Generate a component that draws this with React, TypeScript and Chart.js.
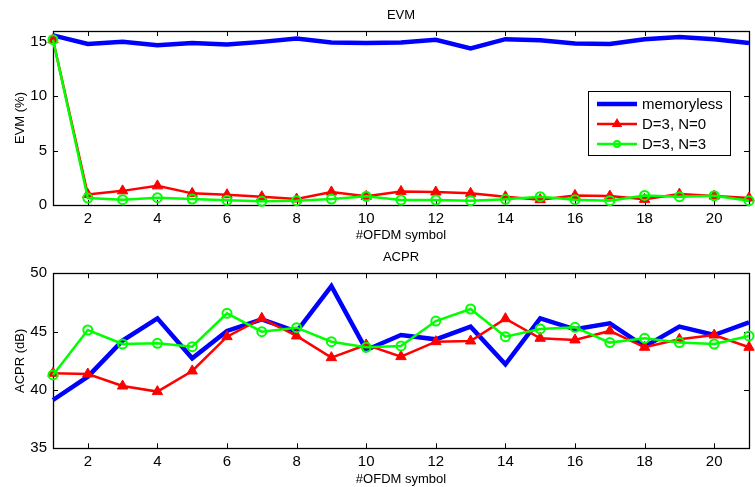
import React, { useEffect, useRef } from 'react';
import { Chart, registerables } from 'chart.js';
Chart.register(...registerables);

const symbols = [1, 2, 3, 4, 5, 6, 7, 8, 9, 10, 11, 12, 13, 14, 15, 16, 17, 18, 19, 20, 21];
const xTicks = [2, 4, 6, 8, 10, 12, 14, 16, 18, 20];
const evmTicks = [0, 5, 10, 15];
const acprTicks = [35, 40, 45, 50];
const seriesLabels = ['memoryless', 'D=3, N=0', 'D=3, N=3'];

const evmMemoryless = [15.6, 14.8, 15.0, 14.7, 14.9, 14.75, 15.0, 15.3, 14.95, 14.9, 14.95, 15.2, 14.4, 15.25, 15.15, 14.85, 14.8, 15.25, 15.45, 15.25, 14.9];
const evmD3N0 = [15.2, 0.97, 1.3, 1.76, 1.07, 0.94, 0.76, 0.55, 1.2, 0.8, 1.25, 1.19, 1.07, 0.76, 0.49, 0.88, 0.82, 0.52, 1.0, 0.82, 0.64];
const evmD3N3 = [15.2, 0.64, 0.49, 0.67, 0.55, 0.43, 0.34, 0.4, 0.55, 0.8, 0.46, 0.46, 0.4, 0.52, 0.76, 0.49, 0.4, 0.88, 0.76, 0.85, 0.4];

const acprMemoryless = [39.14, 41.14, 44.23, 46.14, 42.71, 45.06, 46.06, 45.0, 48.9, 43.43, 44.71, 44.34, 45.43, 42.2, 46.14, 45.2, 45.71, 43.71, 45.43, 44.71, 45.8];
const acprD3N0 = [41.43, 41.37, 40.34, 39.86, 41.63, 44.57, 46.14, 44.63, 42.77, 43.86, 42.86, 44.14, 44.2, 46.11, 44.43, 44.29, 45.06, 43.66, 44.34, 44.71, 43.66];
const acprD3N3 = [41.29, 45.14, 43.94, 44.0, 43.71, 46.57, 45.0, 45.34, 44.14, 43.66, 43.77, 45.91, 46.94, 44.57, 45.23, 45.37, 44.06, 44.43, 44.06, 43.94, 44.63];

const FONT = "'Liberation Sans', Arial, Helvetica, sans-serif";
const BLUE = '#0000ff';
const RED = '#ff0000';
const GREEN = '#00ff00';

function makeDatasets(a: number[], b: number[], c: number[]) {
  const pts = (arr: number[]) => symbols.map((x, i) => ({ x, y: arr[i] }));
  return [
    {
      label: seriesLabels[0], data: pts(a), borderColor: BLUE, borderWidth: 4.5,
      pointRadius: 0, tension: 0, order: 3, clip: false as any,
    },
    {
      label: seriesLabels[1], data: pts(b), borderColor: RED, borderWidth: 2.5,
      pointStyle: 'triangle', pointRadius: 6, pointBackgroundColor: RED, pointBorderColor: RED,
      pointBorderWidth: 1, tension: 0, order: 2, clip: false as any,
    },
    {
      label: seriesLabels[2], data: pts(c), borderColor: GREEN, borderWidth: 2.5,
      pointStyle: 'circle', pointRadius: 4.5, pointBackgroundColor: 'rgba(0,0,0,0)', pointBorderColor: GREEN,
      pointBorderWidth: 2, tension: 0, order: 1, clip: false as any,
    },
  ];
}

const framePlugin = {
  id: 'frameTicks',
  beforeDatasetsDraw(chart: any) {
    const { ctx, chartArea: a, scales } = chart;
    ctx.save();
    ctx.strokeStyle = '#000';
    ctx.lineWidth = 1;
    ctx.beginPath();
    const tl = 5;
    for (const t of scales.x.ticks) {
      const px = Math.round(scales.x.getPixelForValue(t.value)) + 0.5;
      ctx.moveTo(px, a.top); ctx.lineTo(px, a.top + tl);
      ctx.moveTo(px, a.bottom); ctx.lineTo(px, a.bottom - tl);
    }
    for (const t of scales.y.ticks) {
      const py = Math.round(scales.y.getPixelForValue(t.value)) + 0.5;
      ctx.moveTo(a.left, py); ctx.lineTo(a.left + tl, py);
      ctx.moveTo(a.right, py); ctx.lineTo(a.right - tl, py);
    }
    ctx.stroke();
    ctx.lineWidth = 1.3;
    ctx.strokeRect(Math.round(a.left) + 0.5, Math.round(a.top) + 0.5, a.right - a.left, a.bottom - a.top);
    ctx.restore();
  },
};

const legendPlugin = {
  id: 'matlabLegend',
  afterDatasetsDraw(chart: any) {
    const { ctx, chartArea: a } = chart;
    const bx = a.left + 535, by = a.top + 60, bw = 142, bh = 64;
    ctx.save();
    ctx.fillStyle = '#fff';
    ctx.fillRect(bx, by, bw, bh);
    ctx.strokeStyle = '#000';
    ctx.lineWidth = 1;
    ctx.strokeRect(bx + 0.5, by + 0.5, bw, bh);
    ctx.font = `15px ${FONT}`;
    ctx.textBaseline = 'middle';
    chart.data.datasets.forEach((ds: any, i: number) => {
      const y = by + 13 + i * 20;
      const x0 = bx + 9, x1 = bx + 49;
      ctx.strokeStyle = ds.borderColor;
      ctx.lineWidth = ds.borderWidth;
      ctx.beginPath(); ctx.moveTo(x0, y); ctx.lineTo(x1, y); ctx.stroke();
      const mx = (x0 + x1) / 2;
      if (ds.pointStyle === 'triangle') {
        ctx.fillStyle = ds.pointBackgroundColor;
        const r = 6;
        ctx.beginPath();
        ctx.moveTo(mx, y - r);
        ctx.lineTo(mx + r * 0.866, y + r * 0.5);
        ctx.lineTo(mx - r * 0.866, y + r * 0.5);
        ctx.closePath(); ctx.fill();
      } else if (ds.pointStyle === 'circle' && ds.pointRadius > 0) {
        ctx.strokeStyle = ds.pointBorderColor;
        ctx.lineWidth = 2;
        ctx.beginPath(); ctx.arc(mx, y, 3, 0, Math.PI * 2); ctx.stroke();
      }
      ctx.fillStyle = '#000';
      ctx.fillText(ds.label, bx + 54, y + 1);
    });
    ctx.restore();
  },
};

function makeConfig(title: string, yTitle: string, yMin: number, yMax: number, yTicks: number[], ds: any[], titlePad: any, xAxisH: number, xTitlePadBottom: number, withLegend: boolean) {
  return {
    type: 'line' as const,
    data: { datasets: ds },
    options: {
      animation: false as const,
      responsive: false,
      events: [],
      layout: { padding: { left: 0, right: 0, top: 0, bottom: 0 } },
      plugins: {
        legend: { display: false },
        tooltip: { enabled: false },
        title: {
          display: true, text: title, color: '#000', fullSize: false,
          font: { family: FONT, size: 13, weight: 'normal' as const }, padding: titlePad,
        },
      },
      scales: {
        x: {
          type: 'linear' as const, min: 1, max: 21,
          afterBuildTicks: (axis: any) => { axis.ticks = xTicks.map((v) => ({ value: v })); },
          afterFit: (axis: any) => { axis.height = xAxisH; },
          grid: { display: false, drawTicks: false },
          border: { display: false },
          ticks: { color: '#000', font: { family: FONT, size: 15 }, padding: 5, maxRotation: 0 },
          title: {
            display: true, text: '#OFDM symbol', color: '#000',
            font: { family: FONT, size: 13 }, padding: { top: 0, bottom: xTitlePadBottom },
          },
        },
        y: {
          type: 'linear' as const, min: yMin, max: yMax,
          afterBuildTicks: (axis: any) => { axis.ticks = yTicks.map((v) => ({ value: v })); },
          afterFit: (axis: any) => { axis.width = 53; },
          grid: { display: false, drawTicks: false },
          border: { display: false },
          ticks: { color: '#000', font: { family: FONT, size: 15 }, padding: 6 },
          title: {
            display: true, text: yTitle, color: '#000',
            font: { family: FONT, size: 13 }, padding: { top: 12.5, bottom: 0 },
          },
        },
      },
    },
    plugins: withLegend ? [framePlugin, legendPlugin] : [framePlugin],
  };
}

export default function App() {
  const topRef = useRef<HTMLCanvasElement>(null);
  const botRef = useRef<HTMLCanvasElement>(null);

  useEffect(() => {
    const top = new Chart(topRef.current!, makeConfig('EVM', 'EVM (%)', 0, 16, evmTicks,
      makeDatasets(evmMemoryless, evmD3N0, evmD3N3), { top: 7.7, bottom: 7.7 }, 40, 2, true) as any);
    const bot = new Chart(botRef.current!, makeConfig('ACPR', 'ACPR (dB)', 35, 50, acprTicks,
      makeDatasets(acprMemoryless, acprD3N0, acprD3N3), { top: 4.2, bottom: 8.5 }, 38.7, 0, false) as any);
    return () => { top.destroy(); bot.destroy(); };
  }, []);

  return (
    <div style={{ position: 'absolute', left: 0, top: 0, width: 755, height: 487, overflow: 'hidden', background: '#fff' }}>
      <canvas ref={topRef} width={756} height={245} style={{ position: 'absolute', left: 0, top: 0, display: 'block' }} />
      <canvas ref={botRef} width={756} height={242} style={{ position: 'absolute', left: 0, top: 245, display: 'block' }} />
    </div>
  );
}
